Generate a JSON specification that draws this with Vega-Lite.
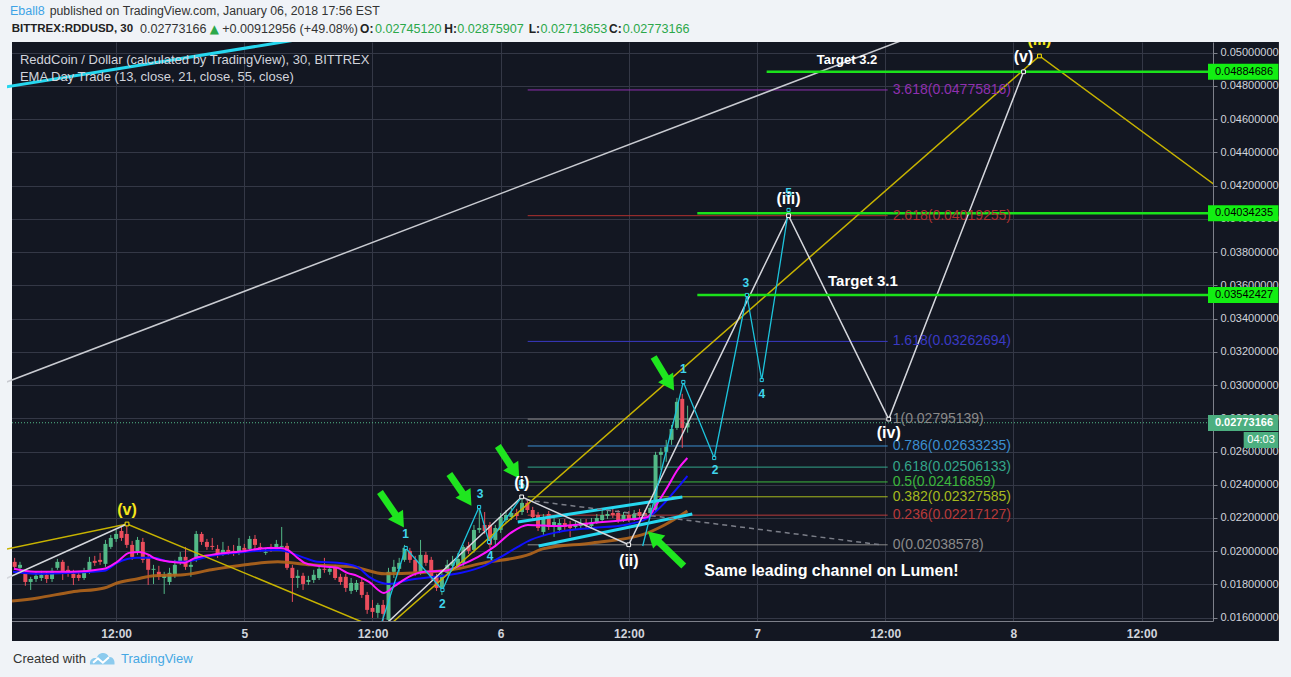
{
"$schema": "https://vega.github.io/schema/vega-lite/v6.json",
"width": 1206,
"height": 579,
"autosize": {"type": "none"},
"padding": {"left": 7, "top": 42, "right": 78, "bottom": 56},
"background": "#131722",
"view": {"stroke": null},
"config": {"font": "Liberation Sans", "axis": {"labelOverlap": false}},
"datasets": {
"margins": [
{"x1": -10, "x2": 130, "y1": 0.050644, "y2": 0.056},
{"x1": -10, "x2": 130, "y1": 0.012, "y2": 0.014598},
{"x1": -10, "x2": 2.2514, "y1": 0.012, "y2": 0.056},
{"x1": 120.86, "x2": 130, "y1": 0.012, "y2": 0.056}
],
"candles": [
{"t":2.5,"o":0.01936,"h":0.01960,"l":0.01888,"c":0.01906},
{"t":3.0,"o":0.01900,"h":0.01936,"l":0.01882,"c":0.01918},
{"t":3.5,"o":0.01864,"h":0.01888,"l":0.01792,"c":0.01815},
{"t":4.0,"o":0.01815,"h":0.01846,"l":0.01767,"c":0.01833},
{"t":4.5,"o":0.01833,"h":0.01876,"l":0.01815,"c":0.01852},
{"t":5.0,"o":0.01839,"h":0.01882,"l":0.01821,"c":0.01858},
{"t":5.5,"o":0.01858,"h":0.01876,"l":0.01809,"c":0.01833},
{"t":6.0,"o":0.01833,"h":0.01900,"l":0.01815,"c":0.01882},
{"t":6.5,"o":0.01900,"h":0.01954,"l":0.01888,"c":0.01936},
{"t":7.0,"o":0.01936,"h":0.01948,"l":0.01827,"c":0.01876},
{"t":7.5,"o":0.01888,"h":0.01912,"l":0.01846,"c":0.01870},
{"t":8.0,"o":0.01864,"h":0.01888,"l":0.01797,"c":0.01839},
{"t":8.5,"o":0.01858,"h":0.01876,"l":0.01821,"c":0.01839},
{"t":9.0,"o":0.01839,"h":0.01900,"l":0.01827,"c":0.01876},
{"t":9.5,"o":0.01876,"h":0.01966,"l":0.01864,"c":0.01936},
{"t":10.0,"o":0.01942,"h":0.01972,"l":0.01912,"c":0.01930},
{"t":10.5,"o":0.01948,"h":0.01990,"l":0.01918,"c":0.01936},
{"t":11.0,"o":0.01924,"h":0.02068,"l":0.01906,"c":0.02044},
{"t":11.5,"o":0.02026,"h":0.02098,"l":0.02014,"c":0.02080},
{"t":12.0,"o":0.02074,"h":0.02128,"l":0.02056,"c":0.02104},
{"t":12.5,"o":0.02122,"h":0.02146,"l":0.02062,"c":0.02080},
{"t":13.0,"o":0.02104,"h":0.02164,"l":0.02020,"c":0.02038},
{"t":13.5,"o":0.02038,"h":0.02062,"l":0.01948,"c":0.01966},
{"t":14.0,"o":0.01996,"h":0.02086,"l":0.01978,"c":0.02068},
{"t":14.5,"o":0.02056,"h":0.02080,"l":0.01930,"c":0.01948},
{"t":15.0,"o":0.01960,"h":0.01978,"l":0.01797,"c":0.01888},
{"t":15.5,"o":0.01888,"h":0.01918,"l":0.01803,"c":0.01894},
{"t":16.0,"o":0.01876,"h":0.01912,"l":0.01827,"c":0.01846},
{"t":16.5,"o":0.01839,"h":0.01876,"l":0.01743,"c":0.01852},
{"t":17.0,"o":0.01815,"h":0.01900,"l":0.01797,"c":0.01870},
{"t":17.5,"o":0.01858,"h":0.01948,"l":0.01839,"c":0.01918},
{"t":18.0,"o":0.01936,"h":0.01996,"l":0.01918,"c":0.01966},
{"t":18.5,"o":0.01966,"h":0.02026,"l":0.01888,"c":0.01906},
{"t":19.0,"o":0.01906,"h":0.01948,"l":0.01846,"c":0.01918},
{"t":19.5,"o":0.01948,"h":0.02122,"l":0.01936,"c":0.02104},
{"t":20.0,"o":0.02104,"h":0.02116,"l":0.02038,"c":0.02056},
{"t":20.5,"o":0.02056,"h":0.02074,"l":0.02008,"c":0.02026},
{"t":21.0,"o":0.02032,"h":0.02080,"l":0.02008,"c":0.02026},
{"t":21.5,"o":0.02014,"h":0.02038,"l":0.01960,"c":0.01978},
{"t":22.0,"o":0.01990,"h":0.02056,"l":0.01972,"c":0.02008},
{"t":22.5,"o":0.02008,"h":0.02032,"l":0.01978,"c":0.01996},
{"t":23.0,"o":0.02002,"h":0.02038,"l":0.01972,"c":0.01990},
{"t":23.5,"o":0.01996,"h":0.02080,"l":0.01978,"c":0.02032},
{"t":24.0,"o":0.02020,"h":0.02044,"l":0.01990,"c":0.02008},
{"t":24.5,"o":0.02014,"h":0.02092,"l":0.02002,"c":0.02074},
{"t":25.0,"o":0.02074,"h":0.02098,"l":0.02014,"c":0.02038},
{"t":25.5,"o":0.02026,"h":0.02050,"l":0.01996,"c":0.02014},
{"t":26.0,"o":0.01990,"h":0.02020,"l":0.01978,"c":0.01996},
{"t":26.5,"o":0.02026,"h":0.02044,"l":0.01996,"c":0.02014},
{"t":27.0,"o":0.02020,"h":0.02068,"l":0.02008,"c":0.02044},
{"t":27.5,"o":0.02026,"h":0.02146,"l":0.02014,"c":0.02032},
{"t":28.0,"o":0.02032,"h":0.02050,"l":0.01888,"c":0.01900},
{"t":28.5,"o":0.01900,"h":0.01918,"l":0.01695,"c":0.01839},
{"t":29.0,"o":0.01839,"h":0.01888,"l":0.01779,"c":0.01852},
{"t":29.5,"o":0.01852,"h":0.01870,"l":0.01767,"c":0.01803},
{"t":30.0,"o":0.01815,"h":0.01852,"l":0.01797,"c":0.01827},
{"t":30.5,"o":0.01827,"h":0.01888,"l":0.01809,"c":0.01858},
{"t":31.0,"o":0.01839,"h":0.01918,"l":0.01827,"c":0.01894},
{"t":31.5,"o":0.01894,"h":0.01960,"l":0.01870,"c":0.01888},
{"t":32.0,"o":0.01876,"h":0.01912,"l":0.01858,"c":0.01894},
{"t":32.5,"o":0.01900,"h":0.01918,"l":0.01827,"c":0.01839},
{"t":33.0,"o":0.01846,"h":0.01864,"l":0.01797,"c":0.01815},
{"t":33.5,"o":0.01846,"h":0.01864,"l":0.01755,"c":0.01779},
{"t":34.0,"o":0.01761,"h":0.01839,"l":0.01743,"c":0.01809},
{"t":34.5,"o":0.01767,"h":0.01827,"l":0.01755,"c":0.01809},
{"t":35.0,"o":0.01815,"h":0.01833,"l":0.01719,"c":0.01737},
{"t":35.5,"o":0.01737,"h":0.01755,"l":0.01623,"c":0.01647},
{"t":36.0,"o":0.01659,"h":0.01707,"l":0.01599,"c":0.01635},
{"t":36.5,"o":0.01629,"h":0.01689,"l":0.01599,"c":0.01677},
{"t":37.0,"o":0.01677,"h":0.01707,"l":0.01556,"c":0.01623},
{"t":37.5,"o":0.01587,"h":0.01900,"l":0.01556,"c":0.01876},
{"t":38.0,"o":0.01876,"h":0.01948,"l":0.01839,"c":0.01906},
{"t":38.5,"o":0.01894,"h":0.01960,"l":0.01876,"c":0.01930},
{"t":39.0,"o":0.01948,"h":0.02038,"l":0.01936,"c":0.02020},
{"t":39.5,"o":0.02002,"h":0.02020,"l":0.01930,"c":0.01948},
{"t":40.0,"o":0.01948,"h":0.01972,"l":0.01852,"c":0.01876},
{"t":40.5,"o":0.01876,"h":0.02068,"l":0.01858,"c":0.01978},
{"t":41.0,"o":0.01978,"h":0.01996,"l":0.01912,"c":0.01930},
{"t":41.5,"o":0.01948,"h":0.01966,"l":0.01827,"c":0.01846},
{"t":42.0,"o":0.01846,"h":0.01864,"l":0.01761,"c":0.01779},
{"t":42.5,"o":0.01779,"h":0.01888,"l":0.01737,"c":0.01858},
{"t":43.0,"o":0.01870,"h":0.01948,"l":0.01852,"c":0.01918},
{"t":43.5,"o":0.01912,"h":0.01972,"l":0.01900,"c":0.01936},
{"t":44.0,"o":0.01912,"h":0.01990,"l":0.01900,"c":0.01954},
{"t":44.5,"o":0.01930,"h":0.02038,"l":0.01912,"c":0.02026},
{"t":45.0,"o":0.02032,"h":0.02056,"l":0.01984,"c":0.02002},
{"t":45.5,"o":0.02008,"h":0.02158,"l":0.01990,"c":0.02128},
{"t":46.0,"o":0.02128,"h":0.02248,"l":0.02110,"c":0.02140},
{"t":46.5,"o":0.02158,"h":0.02236,"l":0.02104,"c":0.02122},
{"t":47.0,"o":0.02158,"h":0.02176,"l":0.02020,"c":0.02038},
{"t":47.5,"o":0.02068,"h":0.02158,"l":0.02038,"c":0.02140},
{"t":48.0,"o":0.02128,"h":0.02230,"l":0.02110,"c":0.02206},
{"t":48.5,"o":0.02188,"h":0.02248,"l":0.02170,"c":0.02218},
{"t":49.0,"o":0.02206,"h":0.02261,"l":0.02188,"c":0.02230},
{"t":49.5,"o":0.02230,"h":0.02255,"l":0.02188,"c":0.02212},
{"t":50.0,"o":0.02236,"h":0.02327,"l":0.02218,"c":0.02291},
{"t":50.5,"o":0.02291,"h":0.02309,"l":0.02230,"c":0.02248},
{"t":51.0,"o":0.02248,"h":0.02267,"l":0.02188,"c":0.02206},
{"t":51.5,"o":0.02218,"h":0.02236,"l":0.02122,"c":0.02140},
{"t":52.0,"o":0.02116,"h":0.02224,"l":0.02098,"c":0.02206},
{"t":52.5,"o":0.02224,"h":0.02242,"l":0.02128,"c":0.02146},
{"t":53.0,"o":0.02158,"h":0.02200,"l":0.02086,"c":0.02176},
{"t":53.5,"o":0.02128,"h":0.02194,"l":0.02110,"c":0.02170},
{"t":54.0,"o":0.02170,"h":0.02194,"l":0.02128,"c":0.02146},
{"t":54.5,"o":0.02158,"h":0.02182,"l":0.02086,"c":0.02140},
{"t":55.0,"o":0.02146,"h":0.02176,"l":0.02128,"c":0.02158},
{"t":55.5,"o":0.02152,"h":0.02194,"l":0.02140,"c":0.02170},
{"t":56.0,"o":0.02164,"h":0.02194,"l":0.02140,"c":0.02158},
{"t":56.5,"o":0.02152,"h":0.02200,"l":0.02134,"c":0.02176},
{"t":57.0,"o":0.02176,"h":0.02224,"l":0.02164,"c":0.02200},
{"t":57.5,"o":0.02188,"h":0.02248,"l":0.02176,"c":0.02218},
{"t":58.0,"o":0.02212,"h":0.02248,"l":0.02194,"c":0.02224},
{"t":58.5,"o":0.02230,"h":0.02255,"l":0.02200,"c":0.02218},
{"t":59.0,"o":0.02230,"h":0.02248,"l":0.02170,"c":0.02188},
{"t":59.5,"o":0.02188,"h":0.02236,"l":0.02176,"c":0.02218},
{"t":60.0,"o":0.02218,"h":0.02242,"l":0.02176,"c":0.02194},
{"t":60.5,"o":0.02194,"h":0.02248,"l":0.02182,"c":0.02224},
{"t":61.0,"o":0.02236,"h":0.02255,"l":0.02194,"c":0.02212},
{"t":61.5,"o":0.02230,"h":0.02248,"l":0.02194,"c":0.02212},
{"t":62.0,"o":0.02230,"h":0.02279,"l":0.02218,"c":0.02261},
{"t":62.5,"o":0.02248,"h":0.02598,"l":0.02236,"c":0.02580},
{"t":63.0,"o":0.02580,"h":0.02622,"l":0.02489,"c":0.02598},
{"t":63.5,"o":0.02598,"h":0.02670,"l":0.02538,"c":0.02628},
{"t":64.0,"o":0.02670,"h":0.02760,"l":0.02640,"c":0.02736},
{"t":64.5,"o":0.02742,"h":0.02923,"l":0.02730,"c":0.02899},
{"t":65.0,"o":0.02917,"h":0.02947,"l":0.02622,"c":0.02742},
{"t":65.5,"o":0.02745120,"h":0.02875907,"l":0.02713653,"c":0.02773166}
],
"ema13": [
{"t":2.437,"v":0.01894},{"t":4.387,"v":0.01876},{"t":7.822,"v":0.01876},{"t":10.886,"v":0.01894},{"t":12.093,"v":0.01936},{"t":13.207,"v":0.01990},{"t":14.136,"v":0.01996},{"t":15.064,"v":0.01978},{"t":15.528,"v":0.01960},{"t":17.107,"v":0.01936},{"t":18.314,"v":0.01930},{"t":19.428,"v":0.01960},{"t":20.914,"v":0.01978},{"t":24.070,"v":0.02002},{"t":26.206,"v":0.02020},{"t":27.413,"v":0.02020},{"t":28.063,"v":0.02008},{"t":28.991,"v":0.01960},{"t":29.641,"v":0.01930},{"t":30.848,"v":0.01912},{"t":32.705,"v":0.01900},{"t":33.634,"v":0.01870},{"t":34.562,"v":0.01852},{"t":35.676,"v":0.01815},{"t":37.069,"v":0.01749},{"t":38.090,"v":0.01791},{"t":39.390,"v":0.01846},{"t":40.876,"v":0.01876},{"t":42.733,"v":0.01882},{"t":44.311,"v":0.01918},{"t":45.890,"v":0.01966},{"t":47.375,"v":0.02026},{"t":48.954,"v":0.02110},{"t":50.532,"v":0.02158},{"t":53.410,"v":0.02152},{"t":56.567,"v":0.02170},{"t":59.631,"v":0.02188},{"t":61.766,"v":0.02206},{"t":62.695,"v":0.02291},{"t":63.623,"v":0.02387},{"t":64.552,"v":0.02489},{"t":65.480,"v":0.02561}
],
"ema21": [
{"t":2.344,"v":0.01876},{"t":4.665,"v":0.01864},{"t":7.822,"v":0.01870},{"t":10.886,"v":0.01882},{"t":12.093,"v":0.01930},{"t":13.950,"v":0.01960},{"t":15.528,"v":0.01960},{"t":17.107,"v":0.01936},{"t":18.314,"v":0.01936},{"t":19.428,"v":0.01948},{"t":20.914,"v":0.01972},{"t":24.070,"v":0.01996},{"t":27.134,"v":0.02008},{"t":28.063,"v":0.01996},{"t":29.641,"v":0.01960},{"t":30.848,"v":0.01936},{"t":32.705,"v":0.01930},{"t":34.562,"v":0.01906},{"t":35.676,"v":0.01846},{"t":37.533,"v":0.01803},{"t":39.390,"v":0.01827},{"t":41.804,"v":0.01846},{"t":44.311,"v":0.01870},{"t":46.446,"v":0.01912},{"t":48.024,"v":0.01966},{"t":49.602,"v":0.02026},{"t":50.809,"v":0.02068},{"t":53.410,"v":0.02116},{"t":56.567,"v":0.02140},{"t":59.631,"v":0.02158},{"t":61.766,"v":0.02200},{"t":63.344,"v":0.02291},{"t":64.552,"v":0.02381},{"t":65.480,"v":0.02453}
],
"ema55": [
{"t":2.251,"v":0.01700},{"t":4.665,"v":0.01719},{"t":7.822,"v":0.01755},{"t":10.886,"v":0.01779},{"t":12.093,"v":0.01809},{"t":13.950,"v":0.01833},{"t":15.528,"v":0.01852},{"t":18.314,"v":0.01858},{"t":20.914,"v":0.01888},{"t":24.070,"v":0.01918},{"t":27.134,"v":0.01936},{"t":30.198,"v":0.01918},{"t":34.097,"v":0.01906},{"t":37.161,"v":0.01864},{"t":40.318,"v":0.01870},{"t":43.382,"v":0.01888},{"t":46.446,"v":0.01930},{"t":50.809,"v":0.01984},{"t":51.923,"v":0.02014},{"t":56.567,"v":0.02050},{"t":61.209,"v":0.02098},{"t":63.343,"v":0.02158},{"t":65.480,"v":0.02242}
],
"fib": [
{"level":"0","v":0.02038578,"label":"0(0.02038578)","t1":50.53,"t2":84.23,"tl":84.70},
{"level":"0.236","v":0.02217127,"label":"0.236(0.02217127)","t1":50.53,"t2":84.23,"tl":84.70},
{"level":"0.382","v":0.02327585,"label":"0.382(0.02327585)","t1":50.53,"t2":84.23,"tl":84.70},
{"level":"0.5","v":0.02416859,"label":"0.5(0.02416859)","t1":50.53,"t2":84.23,"tl":84.70},
{"level":"0.618","v":0.02506133,"label":"0.618(0.02506133)","t1":50.53,"t2":84.23,"tl":84.70},
{"level":"0.786","v":0.02633235,"label":"0.786(0.02633235)","t1":50.53,"t2":84.23,"tl":84.70},
{"level":"1","v":0.02795139,"label":"1(0.02795139)","t1":50.53,"t2":84.23,"tl":84.70},
{"level":"1.618","v":0.03262694,"label":"1.618(0.03262694)","t1":50.53,"t2":84.23,"tl":84.70},
{"level":"2.618","v":0.04019255,"label":"2.618(0.04019255)","t1":50.53,"t2":84.23,"tl":84.70},
{"level":"3.618","v":0.04775816,"label":"3.618(0.04775816)","t1":50.53,"t2":84.23,"tl":84.70}
],
"whiteLong": [{"t1":1.6015,"p1":0.030148,"t2":89.80,"p2":0.051775}],
"cyanTL": [{"t1":1.60,"p1":0.047930,"t2":29.46,"p2":0.050836}],
"yellow": [
{"seg":"a","t":1.60,"p":0.020104},{"seg":"a","t":13.02,"p":0.021638},{"seg":"a","t":35.49,"p":0.015621},
{"seg":"b","t":37.07,"p":0.015260},{"seg":"b","t":98.44,"p":0.049802},{"seg":"b","t":114.87,"p":0.042039}
],
"whiteWave": [
{"seg":"a","t":1.60,"p":0.018329},{"seg":"a","t":13.02,"p":0.021638},
{"seg":"b","t":37.16,"p":0.015561},{"seg":"b","t":49.97,"p":0.02327},{"seg":"b","t":59.99,"p":0.02039},{"seg":"b","t":74.95,"p":0.04019},{"seg":"b","t":84.33,"p":0.02795},{"seg":"b","t":96.95,"p":0.04885}
],
"dashed": [{"t1":50.35,"p1":0.02309,"t2":83.58,"p2":0.02039}],
"cyanWave": [
{"seg":"a","t":36.88,"p":0.015741},{"seg":"a","t":39.11,"p":0.020194},{"seg":"a","t":42.55,"p":0.017667},{"seg":"a","t":45.98,"p":0.022661},{"seg":"a","t":46.91,"p":0.020556},{"seg":"a","t":49.97,"p":0.02327},
{"seg":"b","t":61.30,"p":0.020315},{"seg":"b","t":65.10,"p":0.030183},{"seg":"b","t":67.99,"p":0.025610},{"seg":"b","t":71.05,"p":0.035419},{"seg":"b","t":72.44,"p":0.030304},{"seg":"b","t":74.95,"p":0.040534}
],
"channel": [{"t1":49.60,"p1":0.021759,"t2":65.01,"p2":0.023263},{"t1":51.55,"p1":0.020315,"t2":65.94,"p2":0.022240}],
"targets": [{"t1":72.90,"t2":114.22,"p":0.04884686},{"t1":66.41,"t2":114.22,"p":0.04034235},{"t1":66.41,"t2":114.22,"p":0.03542427}],
"lastPrice": [{"t1":2.2514,"t2":114.22,"p":0.02773166}],
"arrowShafts": [
{"t1":36.70,"p1":0.023564,"t2":38.37,"p2":0.021999},
{"t1":43.20,"p1":0.024647,"t2":44.68,"p2":0.023263},
{"t1":47.74,"p1":0.026332,"t2":49.14,"p2":0.024948},
{"t1":62.32,"p1":0.031689,"t2":63.62,"p2":0.030304},
{"t1":65.14,"p1":0.019111,"t2":62.58,"p2":0.020706}
],
"arrowHeadsDown": [{"t":38.55,"p":0.021819},{"t":44.87,"p":0.023125},{"t":49.34,"p":0.024762},{"t":63.84,"p":0.030064}],
"arrowHeadsUp": [{"t":62.31,"p":0.020868}],
"ptsWhite": [{"t":49.97,"p":0.02327},{"t":59.99,"p":0.02039},{"t":74.95,"p":0.04019},{"t":84.33,"p":0.02795},{"t":96.95,"p":0.04885}],
"ptsYellow": [{"t":13.02,"p":0.021638},{"t":98.44,"p":0.049802}],
"ptsCyan": [{"t":39.11,"p":0.020194},{"t":42.55,"p":0.017667},{"t":45.98,"p":0.022661},{"t":46.91,"p":0.020556},{"t":65.10,"p":0.030183},{"t":67.99,"p":0.025610},{"t":71.05,"p":0.035419},{"t":72.44,"p":0.030304},{"t":74.95,"p":0.040534}],
"legendTxt": [{"t":2.994,"p":0.049561,"s":"ReddCoin / Dollar (calculated by TradingView), 30, BITTREX"},{"t":2.994,"p":0.048538,"s":"EMA Day Trade (13, close, 21, close, 55, close)"}],
"waveWhite": [{"t":49.97,"p":0.024106,"s":"(i)"},{"t":60.0,"p":0.019412,"s":"(ii)"},{"t":74.95,"p":0.041196,"s":"(iii)"},{"t":84.33,"p":0.027115,"s":"(iv)"},{"t":96.95,"p":0.049741,"s":"(v)"}],
"waveYellow": [{"t":13.02,"p":0.022481,"s":"(v)"},{"t":98.44,"p":0.050764,"s":"(iii)"}],
"cyanTxt": [
{"t":39.11,"p":0.021037,"s":"1"},{"t":42.55,"p":0.016824,"s":"2"},{"t":46.07,"p":0.023444,"s":"3"},{"t":47.00,"p":0.019713,"s":"4"},{"t":49.97,"p":0.023986,"s":"5"},
{"t":65.10,"p":0.030966,"s":"1"},{"t":68.08,"p":0.024888,"s":"2"},{"t":70.96,"p":0.036141,"s":"3"},{"t":72.44,"p":0.029462,"s":"4"},{"t":74.95,"p":0.041557,"s":"5"}
],
"target32": [{"t":80.43,"p":0.049561,"s":"Target 3.2"}],
"target31": [{"t":81.91,"p":0.036262,"s":"Target 3.1"}],
"sameTxt": [{"t":67.06,"p":0.018810,"s":"Same leading channel on Lumen!"}],
"boxesGreen": [
{"t1":114.22,"t2":120.81,"tl":114.87,"lo":0.04837,"hi":0.04933,"p":0.04884686,"s":"0.04884686"},
{"t1":114.22,"t2":120.81,"tl":114.87,"lo":0.03986,"hi":0.04082,"p":0.04034235,"s":"0.04034235"},
{"t1":114.22,"t2":120.81,"tl":114.87,"lo":0.03494,"hi":0.03590,"p":0.03542427,"s":"0.03542427"}
],
"boxTeal": [{"t1":114.22,"t2":120.81,"tl":114.87,"lo":0.02724,"hi":0.02820,"p":0.02773166,"s":"0.02773166"}],
"boxTime": [{"t1":117.56,"t2":120.81,"tl":119.19,"lo":0.02621,"hi":0.02718,"p":0.026695,"s":"04:03"}],
"hdrBlue": [{"t":2.066,"p":0.052509,"s":"Eball8"}],
"hdrDark1": [{"t":5.78,"p":0.052509,"s":"published on TradingView.com, January 06, 2018 17:56 EST"}],
"hdrDark2": [{"t":14.23,"p":0.051426,"s":"0.02773166"},{"t":21.93,"p":0.051426,"s":"+0.00912956 (+49.08%)"}],
"hdrBold1": [{"t":2.223,"p":0.051426,"s":"BITTREX:RDDUSD, 30"}],
"hdrBold": [{"t":34.84,"p":0.051426,"s":"O:"},{"t":42.73,"p":0.051426,"s":"H:"},{"t":50.62,"p":0.051426,"s":"L:"},{"t":58.14,"p":0.051426,"s":"C:"}],
"hdrGreen": [{"t":36.23,"p":0.051426,"s":"0.02745120"},{"t":43.94,"p":0.051426,"s":"0.02875907"},{"t":51.74,"p":0.051426,"s":"0.02713653"},{"t":59.44,"p":0.051426,"s":"0.02773166"}],
"hdrTri": [{"t":21.19,"p":0.051426,"s":"▲"}],
"footDark": [{"t":2.344,"p":0.013515,"s":"Created with"}],
"footBlue": [{"t":12.46,"p":0.013515,"s":"TradingView"}],
"footLogo": [{"t":10.70,"p":0.013515}]
},
"layer": [
{"data": {"name": "margins"},
 "mark": {"type": "rect", "fill": "#f0f3f7", "clip": false},
 "encoding": {
  "x": {"field": "x1", "type": "quantitative", "scale": {"domain": [2.2514, 114.22], "nice": false, "zero": false},
        "axis": {"title": null, "values": [12,24,36,48,60,72,84,96,108], "tickCount": 20, "labelExpr": "datum.value % 24 == 0 ? toString(4 + datum.value / 24) : '12:00'", "grid": true, "gridColor": "#343846", "ticks": false, "domainColor": "#7d808a", "labelColor": "#d1d4dc", "labelFontSize": 12, "labelFontWeight": "bold", "labelPadding": 7, "labelFlush": false, "labelOverlap": false}},
  "x2": {"field": "x2"},
  "y": {"field": "y1", "type": "quantitative", "scale": {"domain": [0.015801, 0.050644], "nice": false, "zero": false},
        "axis": {"title": null, "orient": "right", "values": [0.016,0.018,0.02,0.022,0.024,0.026,0.028,0.03,0.032,0.034,0.036,0.038,0.04,0.042,0.044,0.046,0.048,0.05], "tickCount": 40, "format": ".8f", "grid": true, "gridColor": "#343846", "tickColor": "#7d808a", "tickSize": 4, "domainColor": "#7d808a", "labelColor": "#d1d4dc", "labelFontSize": 11, "labelPadding": 3, "labelFlush": false, "labelOverlap": false, "labelBound": false}},
  "y2": {"field": "y2"}
 }},
{"data": {"name": "fib"},
 "mark": {"type": "rule", "strokeWidth": 1},
 "encoding": {"x": {"field": "t1", "type": "quantitative"}, "x2": {"field": "t2"}, "y": {"field": "v", "type": "quantitative"},
  "color": {"field": "level", "type": "nominal", "legend": null, "scale": {"domain": ["0","0.236","0.382","0.5","0.618","0.786","1","1.618","2.618","3.618"], "range": ["#8a8a8a","#b83a3a","#a6ba1e","#3db83d","#33a68a","#3b8fd0","#8a8a8a","#3a3ac4","#b0302f","#9030b0"]}}}},
{"data": {"name": "candles"},
 "mark": {"type": "rule", "strokeWidth": 1, "clip": true},
 "encoding": {"x": {"field": "t", "type": "quantitative"}, "y": {"field": "l", "type": "quantitative"}, "y2": {"field": "h"},
  "color": {"condition": {"test": "datum.c >= datum.o", "value": "#53b987"}, "value": "#eb4d5c"}}},
{"data": {"name": "candles"},
 "mark": {"type": "bar", "width": 4, "clip": true},
 "encoding": {"x": {"field": "t", "type": "quantitative"}, "y": {"field": "o", "type": "quantitative"}, "y2": {"field": "c"},
  "color": {"condition": {"test": "datum.c >= datum.o", "value": "#53b987"}, "value": "#eb4d5c"}}},
{"data": {"name": "ema55"},
 "mark": {"type": "line", "color": "#b4661c", "strokeWidth": 3, "opacity": 0.9, "interpolate": "monotone"},
 "encoding": {"x": {"field": "t", "type": "quantitative"}, "y": {"field": "v", "type": "quantitative"}}},
{"data": {"name": "ema21"},
 "mark": {"type": "line", "color": "#1010ff", "strokeWidth": 2, "interpolate": "monotone"},
 "encoding": {"x": {"field": "t", "type": "quantitative"}, "y": {"field": "v", "type": "quantitative"}}},
{"data": {"name": "ema13"},
 "mark": {"type": "line", "color": "#ff14ff", "strokeWidth": 2, "interpolate": "monotone"},
 "encoding": {"x": {"field": "t", "type": "quantitative"}, "y": {"field": "v", "type": "quantitative"}}},
{"data": {"name": "lastPrice"},
 "mark": {"type": "rule", "color": "#53b987", "strokeWidth": 1, "strokeDash": [1, 2]},
 "encoding": {"x": {"field": "t1", "type": "quantitative"}, "x2": {"field": "t2"}, "y": {"field": "p", "type": "quantitative"}}},
{"data": {"name": "channel"},
 "mark": {"type": "rule", "color": "#26d7ef", "strokeWidth": 3},
 "encoding": {"x": {"field": "t1", "type": "quantitative"}, "x2": {"field": "t2"}, "y": {"field": "p1", "type": "quantitative"}, "y2": {"field": "p2"}}},
{"data": {"name": "whiteLong"},
 "mark": {"type": "rule", "color": "#c9cbd1", "strokeWidth": 1.5, "clip": true},
 "encoding": {"x": {"field": "t1", "type": "quantitative"}, "x2": {"field": "t2"}, "y": {"field": "p1", "type": "quantitative"}, "y2": {"field": "p2"}}},
{"data": {"name": "cyanTL"},
 "mark": {"type": "rule", "color": "#26d7ef", "strokeWidth": 3, "clip": true},
 "encoding": {"x": {"field": "t1", "type": "quantitative"}, "x2": {"field": "t2"}, "y": {"field": "p1", "type": "quantitative"}, "y2": {"field": "p2"}}},
{"data": {"name": "yellow"},
 "mark": {"type": "line", "color": "#c7b300", "strokeWidth": 1.5, "clip": true},
 "encoding": {"x": {"field": "t", "type": "quantitative"}, "y": {"field": "p", "type": "quantitative"}, "detail": {"field": "seg"}}},
{"data": {"name": "dashed"},
 "mark": {"type": "rule", "color": "#7b7e88", "strokeWidth": 1.5, "strokeDash": [5, 4]},
 "encoding": {"x": {"field": "t1", "type": "quantitative"}, "x2": {"field": "t2"}, "y": {"field": "p1", "type": "quantitative"}, "y2": {"field": "p2"}}},
{"data": {"name": "whiteWave"},
 "mark": {"type": "line", "color": "#d5d7dd", "strokeWidth": 1.5, "clip": true},
 "encoding": {"x": {"field": "t", "type": "quantitative"}, "y": {"field": "p", "type": "quantitative"}, "detail": {"field": "seg"}}},
{"data": {"name": "cyanWave"},
 "mark": {"type": "line", "color": "#1dc4dc", "strokeWidth": 1.3, "clip": true},
 "encoding": {"x": {"field": "t", "type": "quantitative"}, "y": {"field": "p", "type": "quantitative"}, "detail": {"field": "seg"}}},
{"data": {"name": "targets"},
 "mark": {"type": "rule", "color": "#1be21b", "strokeWidth": 2.5},
 "encoding": {"x": {"field": "t1", "type": "quantitative"}, "x2": {"field": "t2"}, "y": {"field": "p", "type": "quantitative"}}},
{"data": {"name": "arrowShafts"},
 "mark": {"type": "rule", "color": "#1fe61f", "strokeWidth": 7},
 "encoding": {"x": {"field": "t1", "type": "quantitative"}, "x2": {"field": "t2"}, "y": {"field": "p1", "type": "quantitative"}, "y2": {"field": "p2"}}},
{"data": {"name": "arrowHeadsDown"},
 "mark": {"type": "point", "shape": "triangle-up", "size": 320, "angle": 147, "filled": true, "color": "#1fe61f", "opacity": 1},
 "encoding": {"x": {"field": "t", "type": "quantitative"}, "y": {"field": "p", "type": "quantitative"}}},
{"data": {"name": "arrowHeadsUp"},
 "mark": {"type": "point", "shape": "triangle-up", "size": 320, "angle": 313, "filled": true, "color": "#1fe61f", "opacity": 1},
 "encoding": {"x": {"field": "t", "type": "quantitative"}, "y": {"field": "p", "type": "quantitative"}}},
{"data": {"name": "ptsWhite"},
 "mark": {"type": "point", "shape": "square", "size": 14, "filled": false, "stroke": "#ffffff", "fill": "#131722", "strokeWidth": 1, "opacity": 1},
 "encoding": {"x": {"field": "t", "type": "quantitative"}, "y": {"field": "p", "type": "quantitative"}}},
{"data": {"name": "ptsYellow"},
 "mark": {"type": "point", "shape": "square", "size": 14, "filled": false, "stroke": "#ffe600", "fill": "#131722", "strokeWidth": 1, "opacity": 1, "clip": true},
 "encoding": {"x": {"field": "t", "type": "quantitative"}, "y": {"field": "p", "type": "quantitative"}}},
{"data": {"name": "ptsCyan"},
 "mark": {"type": "point", "shape": "square", "size": 10, "filled": false, "stroke": "#29d0e8", "fill": "#131722", "strokeWidth": 1, "opacity": 1},
 "encoding": {"x": {"field": "t", "type": "quantitative"}, "y": {"field": "p", "type": "quantitative"}}},
{"data": {"name": "fib"},
 "mark": {"type": "text", "align": "left", "baseline": "middle", "fontSize": 14, "font": "Liberation Sans"},
 "encoding": {"x": {"field": "tl", "type": "quantitative"}, "y": {"field": "v", "type": "quantitative"}, "text": {"field": "label"},
  "color": {"field": "level", "type": "nominal", "legend": null}}},
{"data": {"name": "legendTxt"},
 "mark": {"type": "text", "align": "left", "baseline": "middle", "fontSize": 13, "color": "#d1d4dc", "font": "Liberation Sans"},
 "encoding": {"x": {"field": "t", "type": "quantitative"}, "y": {"field": "p", "type": "quantitative"}, "text": {"field": "s"}}},
{"data": {"name": "cyanTxt"},
 "mark": {"type": "text", "align": "center", "baseline": "middle", "fontSize": 12, "fontWeight": "bold", "color": "#40d4ec", "font": "Liberation Sans"},
 "encoding": {"x": {"field": "t", "type": "quantitative"}, "y": {"field": "p", "type": "quantitative"}, "text": {"field": "s"}}},
{"data": {"name": "waveWhite"},
 "mark": {"type": "text", "align": "center", "baseline": "middle", "fontSize": 16, "fontWeight": "bold", "color": "#ffffff", "font": "Liberation Sans"},
 "encoding": {"x": {"field": "t", "type": "quantitative"}, "y": {"field": "p", "type": "quantitative"}, "text": {"field": "s"}}},
{"data": {"name": "waveYellow"},
 "mark": {"type": "text", "align": "center", "baseline": "middle", "fontSize": 16, "fontWeight": "bold", "color": "#f5e61b", "font": "Liberation Sans", "clip": true},
 "encoding": {"x": {"field": "t", "type": "quantitative"}, "y": {"field": "p", "type": "quantitative"}, "text": {"field": "s"}}},
{"data": {"name": "target32"},
 "mark": {"type": "text", "align": "center", "baseline": "middle", "fontSize": 13, "fontWeight": "bold", "color": "#ffffff", "font": "Liberation Sans"},
 "encoding": {"x": {"field": "t", "type": "quantitative"}, "y": {"field": "p", "type": "quantitative"}, "text": {"field": "s"}}},
{"data": {"name": "target31"},
 "mark": {"type": "text", "align": "center", "baseline": "middle", "fontSize": 15, "fontWeight": "bold", "color": "#ffffff", "font": "Liberation Sans"},
 "encoding": {"x": {"field": "t", "type": "quantitative"}, "y": {"field": "p", "type": "quantitative"}, "text": {"field": "s"}}},
{"data": {"name": "sameTxt"},
 "mark": {"type": "text", "align": "left", "baseline": "middle", "fontSize": 16, "fontWeight": "bold", "color": "#ffffff", "font": "Liberation Sans"},
 "encoding": {"x": {"field": "t", "type": "quantitative"}, "y": {"field": "p", "type": "quantitative"}, "text": {"field": "s"}}},
{"data": {"name": "boxesGreen"},
 "mark": {"type": "rect", "color": "#12ef12", "opacity": 1, "clip": false},
 "encoding": {"x": {"field": "t1", "type": "quantitative"}, "x2": {"field": "t2"}, "y": {"field": "lo", "type": "quantitative"}, "y2": {"field": "hi"}}},
{"data": {"name": "boxesGreen"},
 "mark": {"type": "text", "align": "left", "baseline": "middle", "fontSize": 11, "color": "#000000", "font": "Liberation Sans"},
 "encoding": {"x": {"field": "tl", "type": "quantitative"}, "y": {"field": "p", "type": "quantitative"}, "text": {"field": "s"}}},
{"data": {"name": "boxTeal"},
 "mark": {"type": "rect", "color": "#4caf80", "opacity": 1, "clip": false},
 "encoding": {"x": {"field": "t1", "type": "quantitative"}, "x2": {"field": "t2"}, "y": {"field": "lo", "type": "quantitative"}, "y2": {"field": "hi"}}},
{"data": {"name": "boxTeal"},
 "mark": {"type": "text", "align": "left", "baseline": "middle", "fontSize": 11, "fontWeight": "bold", "color": "#ffffff", "font": "Liberation Sans"},
 "encoding": {"x": {"field": "tl", "type": "quantitative"}, "y": {"field": "p", "type": "quantitative"}, "text": {"field": "s"}}},
{"data": {"name": "boxTime"},
 "mark": {"type": "rect", "color": "#4caf80", "opacity": 1, "clip": false},
 "encoding": {"x": {"field": "t1", "type": "quantitative"}, "x2": {"field": "t2"}, "y": {"field": "lo", "type": "quantitative"}, "y2": {"field": "hi"}}},
{"data": {"name": "boxTime"},
 "mark": {"type": "text", "align": "center", "baseline": "middle", "fontSize": 11, "color": "#ffffff", "font": "Liberation Sans"},
 "encoding": {"x": {"field": "tl", "type": "quantitative"}, "y": {"field": "p", "type": "quantitative"}, "text": {"field": "s"}}},
{"data": {"name": "hdrBlue"},
 "mark": {"type": "text", "align": "left", "baseline": "middle", "fontSize": 12.5, "color": "#3ea3e6", "font": "Liberation Sans"},
 "encoding": {"x": {"field": "t", "type": "quantitative"}, "y": {"field": "p", "type": "quantitative"}, "text": {"field": "s"}}},
{"data": {"name": "hdrDark1"},
 "mark": {"type": "text", "align": "left", "baseline": "middle", "fontSize": 12.3, "color": "#333333", "font": "Liberation Sans"},
 "encoding": {"x": {"field": "t", "type": "quantitative"}, "y": {"field": "p", "type": "quantitative"}, "text": {"field": "s"}}},
{"data": {"name": "hdrDark2"},
 "mark": {"type": "text", "align": "left", "baseline": "middle", "fontSize": 12.6, "color": "#333333", "font": "Liberation Sans"},
 "encoding": {"x": {"field": "t", "type": "quantitative"}, "y": {"field": "p", "type": "quantitative"}, "text": {"field": "s"}}},
{"data": {"name": "hdrBold1"},
 "mark": {"type": "text", "align": "left", "baseline": "middle", "fontSize": 11.5, "fontWeight": "bold", "color": "#222222", "font": "Liberation Sans"},
 "encoding": {"x": {"field": "t", "type": "quantitative"}, "y": {"field": "p", "type": "quantitative"}, "text": {"field": "s"}}},
{"data": {"name": "hdrBold"},
 "mark": {"type": "text", "align": "left", "baseline": "middle", "fontSize": 12, "fontWeight": "bold", "color": "#222222", "font": "Liberation Sans"},
 "encoding": {"x": {"field": "t", "type": "quantitative"}, "y": {"field": "p", "type": "quantitative"}, "text": {"field": "s"}}},
{"data": {"name": "hdrGreen"},
 "mark": {"type": "text", "align": "left", "baseline": "middle", "fontSize": 12.6, "color": "#2ba84a", "font": "Liberation Sans"},
 "encoding": {"x": {"field": "t", "type": "quantitative"}, "y": {"field": "p", "type": "quantitative"}, "text": {"field": "s"}}},
{"data": {"name": "hdrTri"},
 "mark": {"type": "text", "align": "center", "baseline": "middle", "fontSize": 12, "color": "#2ba84a", "font": "DejaVu Sans"},
 "encoding": {"x": {"field": "t", "type": "quantitative"}, "y": {"field": "p", "type": "quantitative"}, "text": {"field": "s"}}},
{"data": {"name": "footDark"},
 "mark": {"type": "text", "align": "left", "baseline": "middle", "fontSize": 13, "color": "#333333", "font": "Liberation Sans"},
 "encoding": {"x": {"field": "t", "type": "quantitative"}, "y": {"field": "p", "type": "quantitative"}, "text": {"field": "s"}}},
{"data": {"name": "footBlue"},
 "mark": {"type": "text", "align": "left", "baseline": "middle", "fontSize": 13, "color": "#46a8e4", "font": "Liberation Sans"},
 "encoding": {"x": {"field": "t", "type": "quantitative"}, "y": {"field": "p", "type": "quantitative"}, "text": {"field": "s"}}},
{"data": {"name": "footLogo"},
 "mark": {"type": "point", "shape": "M-1,0.45 C-1.05,0.05 -0.75,-0.15 -0.45,-0.05 C-0.35,-0.55 0.35,-0.65 0.55,-0.15 C0.85,-0.2 1.05,0.1 1,0.45 Z", "size": 600, "filled": true, "color": "#8ccbee", "opacity": 1},
 "encoding": {"x": {"field": "t", "type": "quantitative"}, "y": {"field": "p", "type": "quantitative"}}},
{"data": {"name": "footLogo"},
 "mark": {"type": "point", "shape": "M-0.75,0.3 L-0.35,-0.05 L0.05,0.3 L0.55,-0.15", "size": 600, "filled": false, "stroke": "#ffffff", "strokeWidth": 2, "opacity": 1},
 "encoding": {"x": {"field": "t", "type": "quantitative"}, "y": {"field": "p", "type": "quantitative"}}}
]
}
